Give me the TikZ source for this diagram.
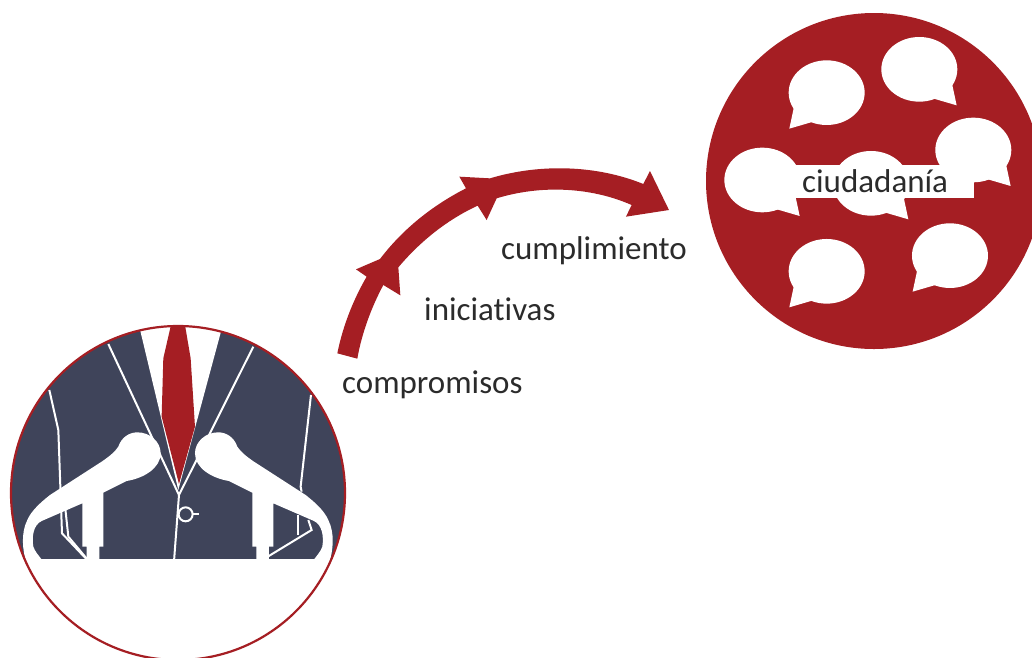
\documentclass[tikz,border=0pt]{standalone}
\usepackage{fontspec}
\setmainfont{Carlito}[Ligatures=NoCommon]
\definecolor{brick}{HTML}{A51E23}
\definecolor{navy}{HTML}{3F445A}
\definecolor{ink}{HTML}{2B2B2B}
\newcommand{\speechbubble}[3]{%
  \begin{scope}[shift={(#1,#2)},xscale=#3]
    \fill[white] (0,0) ellipse [x radius=114,y radius=97];
    \fill[white] (99,40) -- (99,47) -- (112,108) -- (47,89) -- (20,80) -- cycle;
  \end{scope}}
\newcommand{\micshape}{%
  \fill[white] (78,725) .. controls (68,690) and (62,640) .. (82,600)
    .. controls (95,570) and (125,545) .. (150,525)
    -- (305,425) .. controls (330,408) and (345,395) .. (355,380)
    .. controls (365,350) and (390,337) .. (412,337)
    .. controls (450,337) and (482,365) .. (482,400)
    .. controls (482,445) and (430,475) .. (380,483)
    -- (310,518) -- (310,680) -- (298,680) -- (298,725) -- (260,725) -- (260,680)
    -- (247,680) -- (247,550) -- (125,603)
    .. controls (100,615) and (95,650) .. (100,680)
    .. controls (105,695) and (115,705) .. (130,725) -- cycle;}
\tikzset{
  textlabel/.style={anchor=base west,inner sep=0pt,text=ink,font=\fontsize{33}{38}\selectfont},
  seam/.style={draw=white,line width=2pt,line join=miter}
}
\begin{document}
\begin{tikzpicture}[x=1pt,y=-1pt]
\clip (0,0) rectangle (1032,657);
\fill[white] (0,0) rectangle (1032,657);
% right circle
\fill[brick] (874,181) circle [radius=168];
\begin{scope}[shift={(700,0)},x=0.3333pt,y=-0.3333pt]
  \speechbubble{380}{278}{-1}
  \speechbubble{658}{208}{1}
  \speechbubble{820}{450}{1}
  \speechbubble{187}{540}{1}
  \speechbubble{513}{550}{1}
  \speechbubble{380}{814}{-1}
  \speechbubble{750}{767}{-1}
  \fill[white] (285,495) rectangle (823,595);
\end{scope}
\node[textlabel] (ciudadania) at (802,192) {ciudadanía};
% arrow
\begin{scope}[shift={(330,160)},x=0.3333pt,y=-0.3333pt]
  \fill[brick] (22,580) .. controls (40,490) and (75,410) .. (110,350)
    -- (78,328) -- (150,297) .. controls (220,205) and (310,135) .. (408,85)
    -- (388,50) -- (480,55) .. controls (630,10) and (800,15) .. (940,72)
    -- (960,33) -- (1017,150) -- (888,170) -- (905,135)
    .. controls (780,80) and (630,75) .. (500,115)
    -- (470,180) -- (443,137) .. controls (350,180) and (270,245) .. (205,322)
    -- (211,406) -- (160,375) .. controls (125,440) and (95,520) .. (82,596) -- cycle;
\end{scope}
\node[textlabel] (compromisos) at (342,393) {compromisos};
\node[textlabel] (iniciativas) at (424,320) {iniciativas};
\node[textlabel] (cumplimiento) at (501,259.5) {cumplimiento};
% left circle
\fill[white] (178,493) circle [radius=167];
\begin{scope}
  \clip (178,493) circle [radius=167];
  \begin{scope}[shift={(0,320)},x=0.3333pt,y=-0.3333pt]
    \clip (0,0) rectangle (1100,718);
    \fill[navy] (0,0) rectangle (1100,718);
    \fill[white] (418,20) -- (535,510) -- (667,20) -- cycle;
    \fill[brick] (513,15) -- (555,15) -- (572,115) -- (585,320) -- (537,492) -- (485,290) -- (490,115) -- cycle;
    \draw[seam] (325,72) -- (537,525);
    \draw[seam] (760,80) -- (537,525);
    \draw[seam] (537,525) -- (522,725);
    \draw[seam] (148,210) -- (175,330) -- (186,640) -- (260,718);
    \draw[seam] (190,510) -- (205,650) -- (262,718);
    \draw[seam] (933,225) -- (902,500) -- (905,515);
    \draw[seam] (895,585) -- (895,645);
    \draw[seam] (925,600) -- (935,630) -- (800,712);
    \draw[white,line width=2pt] (557,583) circle [radius=21];
    \draw[white,line width=2pt] (578,582) -- (597,582);
    \micshape
    \begin{scope}[shift={(1067,0)},xscale=-1]
      \micshape
    \end{scope}
  \end{scope}
\end{scope}
\draw[brick,line width=2.2pt] (178,493) circle [radius=167];
\end{tikzpicture}
\end{document}
